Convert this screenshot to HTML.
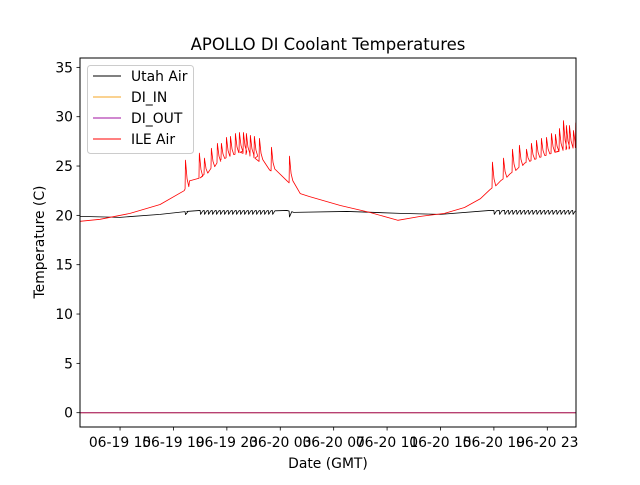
<!DOCTYPE html>
<html><head><meta charset="utf-8"><style>
body{margin:0;background:#fff;}
svg text{font-family:"DejaVu Sans","Liberation Sans",sans-serif;fill:#000;}
</style></head><body>
<svg id="chart" width="640" height="480" viewBox="0 0 640 480" xmlns="http://www.w3.org/2000/svg">
<rect width="640" height="480" fill="#fff"/>
<text x="328" y="50" font-size="16.5" text-anchor="middle">APOLLO DI Coolant Temperatures</text>
<g id="plot"></g>
<text x="328" y="468" font-size="13.9" text-anchor="middle">Date (GMT)</text>
<text transform="translate(44,242) rotate(-90)" font-size="13.9" text-anchor="middle">Temperature (C)</text>
<g>
<rect x="87.5" y="65.5" width="106" height="88" rx="3" fill="#fff" fill-opacity="0.8" stroke="#ccc"/>
<line x1="93" y1="76" x2="121" y2="76" stroke="#000" stroke-width="1"/>
<text x="131" y="81" font-size="13.9">Utah Air</text>
<line x1="93" y1="97" x2="121" y2="97" stroke="#f5a623" stroke-width="1"/>
<text x="131" y="102" font-size="13.9">DI_IN</text>
<line x1="93" y1="118" x2="121" y2="118" stroke="#a010a0" stroke-width="1"/>
<text x="131" y="123" font-size="13.9">DI_OUT</text>
<line x1="93" y1="139" x2="121" y2="139" stroke="#ff0000" stroke-width="1"/>
<text x="131" y="144" font-size="13.9">ILE Air</text>
</g>
</svg>
<script>
// hours since 06-19 12:00 GMT
const xTickHours = [3,7,11,15,19,23,27,31,35];
const xTickLabels = ["06-19 15","06-19 19","06-19 23","06-20 03","06-20 07","06-20 11","06-20 15","06-20 19","06-20 23"];
const yTicks = [0,5,10,15,20,25,30,35];
const ileBaseHours = [0,1.5,3.75,6.0,7.8,8.2,9.0,10.5,12.0,13.1,14.2,15.5,16.5,17.2,19.5,21.7,23.8,25.5,27.3,28.8,30.0,30.7,31.5,32.2,33.3,34.5,35.6,37.2];
const ileBaseValues = [19.4,19.6,20.2,21.1,22.5,23.5,23.8,25.6,26.4,25.8,24.6,23.5,22.2,21.9,21.0,20.3,19.5,19.9,20.2,20.8,21.7,22.6,23.5,24.2,25.3,25.9,26.4,26.9];
const ileSpikeHours = [7.87,8.91,9.29,9.81,10.26,10.56,10.94,11.24,11.61,11.91,12.21,12.43,12.73,13.03,13.41,14.31,15.66,30.86,31.69,32.36,32.88,33.41,33.78,34.16,34.53,34.91,35.28,35.58,35.88,36.18,36.40,36.63,36.93,37.1];
const ileSpikePeaks = [25.6,26.3,25.8,26.8,27.3,27.3,27.9,28.0,28.3,28.4,28.4,28.3,28.1,28.0,27.8,26.9,26.0,25.4,25.8,26.7,27.1,26.7,27.3,27.6,27.8,27.9,28.3,28.2,28.8,29.6,29.1,29.1,28.6,29.4];
const utahBaseHours = [0,3,6,8,9,15.5,16,20,24,27,30.7,37.2];
const utahBaseValues = [19.9,19.8,20.1,20.4,20.5,20.5,20.3,20.4,20.2,20.1,20.5,20.5];
const utahDipHours = [7.87,9.0,9.3,9.6,9.9,10.2,10.5,10.8,11.1,11.4,11.7,12.0,12.3,12.6,12.9,13.2,13.5,13.8,14.1,14.4,15.66,31.0,31.4,31.8,32.1,32.4,32.7,33.0,33.3,33.6,33.9,34.2,34.5,34.8,35.1,35.4,35.7,36.0,36.3,36.6,36.9];
const utahDipDepths = [0.3,0.4,0.4,0.4,0.4,0.4,0.4,0.4,0.4,0.4,0.4,0.4,0.4,0.4,0.4,0.4,0.4,0.4,0.4,0.4,0.6,0.4,0.4,0.4,0.4,0.4,0.4,0.4,0.4,0.4,0.4,0.4,0.4,0.4,0.4,0.4,0.4,0.4,0.4,0.4,0.4];
const diInHours = [0,37.2];
const diInValues = [0,0];
const diOutHours = [0,37.2];
const diOutValues = [0,0];

const L=80,R=576,T=58,B=427;
const xMin=0,xMax=37.15,yMin=-1.45,yMax=35.95;
const xs=h=>L+(h-xMin)/(xMax-xMin)*(R-L);
const ys=v=>B-(v-yMin)/(yMax-yMin)*(B-T);
const NS="http://www.w3.org/2000/svg";
const plot=document.getElementById('plot');
function mk(tag,attrs,parent){const e=document.createElementNS(NS,tag);for(const k in attrs)e.setAttribute(k,attrs[k]);(parent||plot).appendChild(e);return e;}
function interp(hs,vs,t){if(t<=hs[0])return vs[0];for(let i=1;i<hs.length;i++){if(t<=hs[i]){const f=(t-hs[i-1])/(hs[i]-hs[i-1]);return vs[i-1]+f*(vs[i]-vs[i-1]);}}return vs[vs.length-1];}
function buildPath(bh,bv,eh,ev,mode){
  const ev2=[];
  bh.forEach((h,i)=>ev2.push({t:h,type:'b',v:bv[i]}));
  eh.forEach((h,i)=>ev2.push({t:h,type:'e',v:ev[i]}));
  ev2.sort((a,b)=>a.t-b.t);
  const pts=[];
  ev2.forEach(e=>{
    if(e.type==='b'){pts.push([e.t,e.v]);}
    else{
      const b=interp(bh,bv,e.t);
      if(mode==='spike'){pts.push([e.t,b]);pts.push([e.t+0.03,e.v]);pts.push([e.t+0.15,b+0.35*(e.v-b)]);pts.push([e.t+0.28,b+0.08*(e.v-b)]);}
      else{pts.push([e.t,b]);pts.push([e.t+0.03,b-e.v]);pts.push([e.t+0.2,b-0.1*e.v]);}
    }
  });
  return pts.filter(p=>p[0]<=xMax).map((p,i)=>(i?'L':'M')+xs(p[0]).toFixed(2)+','+ys(p[1]).toFixed(2)).join('');
}
const clip=mk('clipPath',{id:'pc'});mk('rect',{x:L,y:T,width:R-L,height:B-T},clip);
const g=mk('g',{'clip-path':'url(#pc)'});
const dIn=mk('path',{d:diInHours.map((h,i)=>(i?'L':'M')+xs(h)+','+ys(diInValues[i])).join(''),stroke:'#f5a623','stroke-width':1,fill:'none'},g);


const dOut=mk('path',{d:diOutHours.map((h,i)=>(i?'L':'M')+xs(h)+','+ys(diOutValues[i])).join(''),stroke:'#a0106e','stroke-width':1,fill:'none'},g);


const uLine=mk('path',{d:buildPath(utahBaseHours,utahBaseValues,utahDipHours,utahDipDepths,'dip'),stroke:'#000','stroke-width':0.8,fill:'none','stroke-linejoin':'round'},g);


const iLine=mk('path',{d:buildPath(ileBaseHours,ileBaseValues,ileSpikeHours,ileSpikePeaks,'spike'),stroke:'#ff0000','stroke-width':0.8,fill:'none','stroke-linejoin':'round'},g);


const frame=mk('rect',{x:L,y:T,width:R-L,height:B-T,fill:'none',stroke:'#000','stroke-width':1});


yTicks.forEach(v=>{
  const y=ys(v);
  mk('line',{x1:L-3.5,x2:L,y1:y,y2:y,stroke:'#000','stroke-width':0.8});
  const t=mk('text',{x:L-7,y:y+5,'font-size':13.9,'text-anchor':'end'});t.textContent=v;
  
  
});
xTickHours.forEach((h,i)=>{
  const x=xs(h);
  mk('line',{x1:x,x2:x,y1:B,y2:B+3.5,stroke:'#000','stroke-width':0.8});
  const t=mk('text',{x:x,y:B+20,'font-size':13.9,'text-anchor':'middle'});t.textContent=xTickLabels[i];
  
  
});
</script>
</body></html>
